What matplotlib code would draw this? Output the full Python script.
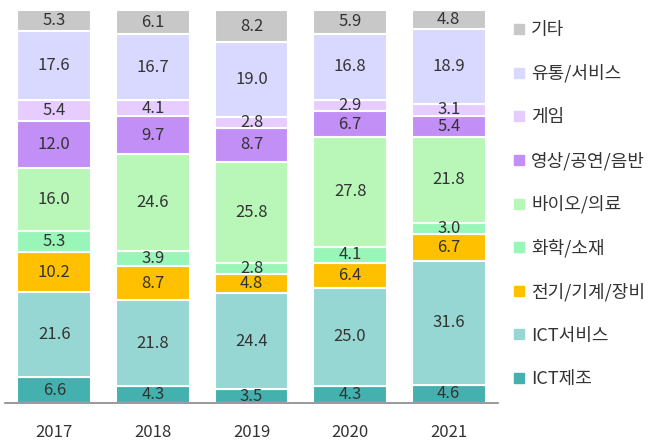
import numpy as np
import matplotlib.pyplot as plt
from matplotlib.lines import Line2D

plt.rcParams['font.family'] = ['Noto Sans CJK KR', 'DejaVu Sans']

years = ['2017', '2018', '2019', '2020', '2021']
categories = ['ICT제조', 'ICT서비스', '전기/기계/장비', '화학/소재', '바이오/의료',
              '영상/공연/음반', '게임', '유통/서비스', '기타']

ict_mfg = [6.6, 4.3, 3.5, 4.3, 4.6]
ict_svc = [21.6, 21.8, 24.4, 25.0, 31.6]
elec_mach = [10.2, 8.7, 4.8, 6.4, 6.7]
chem_mat = [5.3, 3.9, 2.8, 4.1, 3.0]
bio_med = [16.0, 24.6, 25.8, 27.8, 21.8]
media = [12.0, 9.7, 8.7, 6.7, 5.4]
game = [5.4, 4.1, 2.8, 2.9, 3.1]
retail = [17.6, 16.7, 19.0, 16.8, 18.9]
others = [5.3, 6.1, 8.2, 5.9, 4.8]

series = [ict_mfg, ict_svc, elec_mach, chem_mat, bio_med, media, game, retail, others]
colors = ['#45B1AF', '#96D7D4', '#FFC000', '#99F5B8', '#B8F7B8',
          '#C18FF5', '#E7CCFF', '#D9D9FF', '#C8C8C8']

fig = plt.figure(figsize=(6.67, 4.43), dpi=100)
ax = fig.add_axes([5 / 667, 40 / 443, 493 / 667, 393 / 443])

x = np.arange(len(years))
bottom = np.zeros(len(years))
for vals, col in zip(series, colors):
    vals = np.array(vals)
    ax.bar(x, vals, width=0.75, bottom=bottom, color=col,
           edgecolor='white', linewidth=1.5)
    for xi, b, v in zip(x, bottom, vals):
        ax.text(xi, b + v / 2, f'{v:.1f}', ha='center', va='center',
                fontsize=12, color='#333333')
    bottom += vals

ax.set_xlim(-0.5, 4.5)
ax.set_ylim(0, 100)
ax.set_xticks(x)
ax.set_xticklabels(years, fontsize=12, color='#333333')
ax.tick_params(axis='x', length=0, pad=15)
ax.set_yticks([])
for side in ['top', 'right', 'left']:
    ax.spines[side].set_visible(False)
ax.spines['bottom'].set_color('#888888')
ax.spines['bottom'].set_linewidth(1.2)

# legend, top item first
handles = [Line2D([], [], marker='s', linestyle='none', markersize=7,
                  markerfacecolor=c, markeredgecolor=c)
           for c in colors[::-1]]
fig.legend(handles, categories[::-1], loc='upper left',
           bbox_to_anchor=(505 / 667, 1 - 14 / 443), frameon=False,
           fontsize=13, labelspacing=1.4, handletextpad=0.25,
           handlelength=0.8, borderaxespad=0, labelcolor='#333333')

plt.savefig('out.png', dpi=100)
